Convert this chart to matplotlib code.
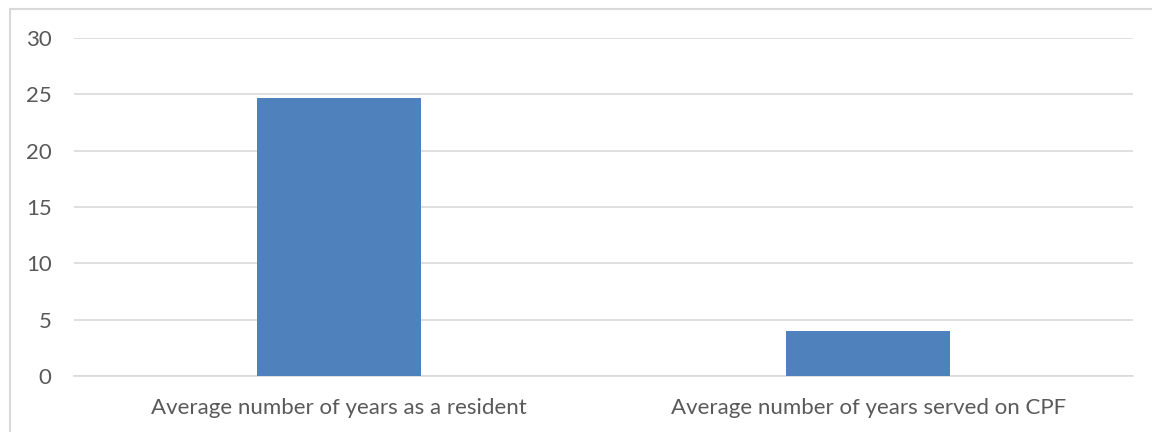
import matplotlib.pyplot as plt
from matplotlib.patches import Rectangle

# --- Data ---
categories = ['Average number of years as a resident',
              'Average number of years served on CPF']
values = [24.7, 4.0]
yticks = [0, 5, 10, 15, 20, 25, 30]

# --- Plot ---
plt.rcParams['font.family'] = ['Lato', 'DejaVu Sans']

fig = plt.figure(figsize=(11.52, 4.32), dpi=100)
ax = fig.add_axes([0.0642, 0.1296, 0.9193, 0.7824])

# chart frame (light border, runs off the right and bottom)
fig.patches.append(Rectangle((10 / 1152, -0.05), 1.2, 1 - 9 / 432 + 0.05,
                             transform=fig.transFigure, fill=False,
                             edgecolor='#d9d9d9', linewidth=1.5, zorder=0))

x = range(len(categories))
ax.bar(x, values, width=0.31, color='#4f81bd', zorder=3)

ax.set_xlim(-0.5, len(categories) - 0.5)
ax.set_ylim(0, 30)
ax.set_yticks(yticks)
ax.set_xticks(list(x))
ax.set_xticklabels(categories)

ax.grid(axis='y', color='#d9d9d9', linewidth=1.2, zorder=0)
for s in ['top', 'right', 'left']:
    ax.spines[s].set_visible(False)
ax.spines['bottom'].set_color('#d9d9d9')
ax.spines['bottom'].set_linewidth(1.2)
ax.tick_params(axis='both', length=0, colors='#595959', labelsize=16)
ax.tick_params(axis='y', pad=16)
ax.tick_params(axis='x', pad=16)

plt.savefig('out.png', dpi=100)
